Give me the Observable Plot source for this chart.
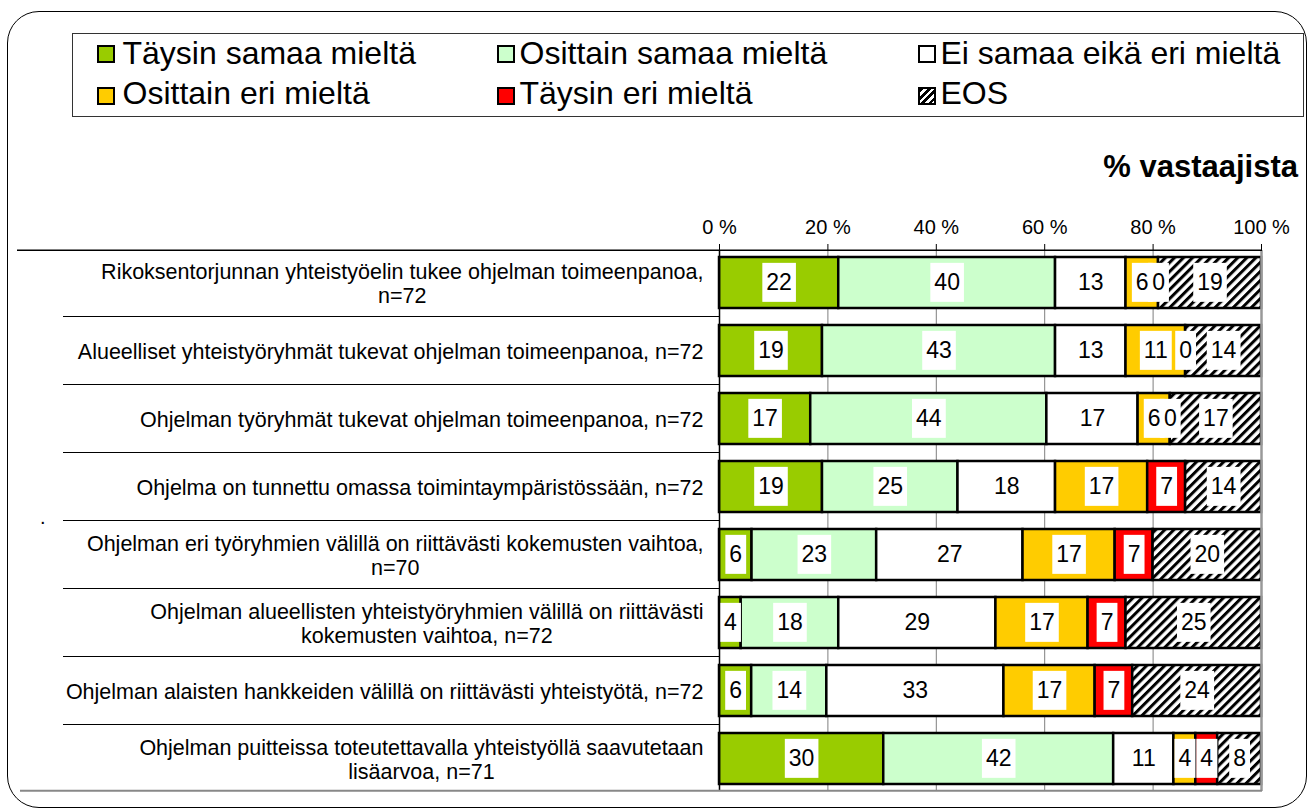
<!DOCTYPE html>
<html><head><meta charset="utf-8">
<script src="https://cdn.jsdelivr.net/npm/d3@7"></script>
<script src="https://cdn.jsdelivr.net/npm/@observablehq/plot@0.6"></script>
<style>
html,body{margin:0;padding:0;background:#fff;}
#wrap{position:relative;width:1309px;height:811px;overflow:hidden;font-family:"Liberation Sans",Arial,sans-serif;color:#000;}
#chart{position:absolute;left:0;top:0;}
#frame{position:absolute;left:7px;top:11px;width:1300px;height:797px;border:1.5px solid #000;border-radius:32px;box-sizing:border-box;pointer-events:none;}
#legend{position:absolute;left:72px;top:33px;width:1232px;height:84px;border:1.5px solid #333;box-sizing:border-box;background:#fff;}
.li{position:absolute;font-size:32px;line-height:32px;white-space:nowrap;}
.sw{position:absolute;width:18px;height:18px;border:2px solid #000;box-sizing:border-box;}
#title{position:absolute;right:11px;top:151px;font-size:31px;line-height:31px;font-weight:bold;}
#dot{position:absolute;left:40px;top:507px;font-size:20px;line-height:20px;}
</style></head><body>
<div id="wrap"><div id="chart"></div><div id="frame"></div><div id="legend"></div><div id="title">% vastaajista</div><div id="dot">.</div></div>
<script>
// ---- data ----
const questions = [
  "Rikoksentorjunnan yhteistyöelin tukee ohjelman toimeenpanoa,\nn=72",
  "Alueelliset yhteistyöryhmät tukevat ohjelman toimeenpanoa, n=72",
  "Ohjelman työryhmät tukevat ohjelman toimeenpanoa, n=72",
  "Ohjelma on tunnettu omassa toimintaympäristössään, n=72",
  "Ohjelman eri työryhmien välillä on riittävästi kokemusten vaihtoa,\nn=70",
  "Ohjelman alueellisten yhteistyöryhmien välillä on riittävästi\nkokemusten vaihtoa, n=72",
  "Ohjelman alaisten hankkeiden välillä on riittävästi yhteistyötä, n=72",
  "Ohjelman puitteissa toteutettavalla yhteistyöllä saavutetaan\nlisäarvoa, n=71"
];
const seriesNames = ["Täysin samaa mieltä","Osittain samaa mieltä","Ei samaa eikä eri mieltä","Osittain eri mieltä","Täysin eri mieltä","EOS"];
const seriesColors = ["#99CC00","#CCFFCC","#FFFFFF","#FFCC00","#FF0000","url(#eos)"];
const taysinSamaa   = [22,19,17,19, 6, 4, 6,30];
const osittainSamaa = [40,43,44,25,23,18,14,42];
const eiSamaaEiEri  = [13,13,17,18,27,29,33,11];
const osittainEri   = [ 6,11, 6,17,17,17,17, 4];
const taysinEri     = [ 0, 0, 0, 7, 7, 7, 7, 4];
const eos           = [19,14,17,14,20,25,24, 8];
const xTicks = [0,0.2,0.4,0.6,0.8,1];

const seriesValues = [taysinSamaa, osittainSamaa, eiSamaaEiEri, osittainEri, taysinEri, eos];
const rows = [];
seriesNames.forEach((s, si) => questions.forEach((q, qi) => rows.push({q, series: s, value: seriesValues[si][qi]})));

// ---- legend (HTML) ----
const legend = document.getElementById("legend");
const legCols = [97, 497, 918], legTextCols = [123, 520, 941];
const legRows = [45, 87], legTextRows = [37.5, 77.5];
seriesNames.forEach((s, i) => {
  const c = i % 3, r = Math.floor(i / 3);
  const sw = document.createElement("div");
  sw.className = "sw";
  sw.style.left = (legCols[c] - 73.5) + "px";
  sw.style.top = (legRows[r] - 34.5) + "px";
  if (s === "EOS") sw.style.background = "repeating-linear-gradient(135deg,#000 0 2.6px,#fff 2.6px 5.2px)";
  else sw.style.background = seriesColors[i];
  legend.appendChild(sw);
  const t = document.createElement("div");
  t.className = "li";
  t.textContent = s;
  t.style.left = (legTextCols[c] - 73.5) + "px";
  t.style.top = (legTextRows[r] - 34.5) + "px";
  legend.appendChild(t);
});

// ---- plot ----
const plot = Plot.plot({
  width: 1309, height: 811,
  marginLeft: 719, marginRight: 48, marginTop: 250, marginBottom: 20,
  style: {background: "none", fontFamily: "'Liberation Sans', Arial, sans-serif", fontSize: "20px", color: "#000", overflow: "visible"},
  x: {domain: [0, 1]},
  y: {domain: questions, paddingInner: 0.25, paddingOuter: 0.1},
  color: {domain: seriesNames, range: seriesColors},
  marks: [
    Plot.gridX({ticks: xTicks.slice(1, -1), stroke: "#7f7f7f", strokeOpacity: 1, strokeWidth: 1}),
    Plot.barX(rows.filter(d => d.value > 0), Plot.stackX({x: "value", y: "q", fill: "series", offset: "normalize", stroke: "#000", strokeWidth: 2.5})),
    Plot.text(rows, Plot.stackX({x: "value", y: "q", text: d => String(d.value), offset: "normalize", fontSize: 23, fill: "#000"})),
    Plot.ruleX([0], {stroke: "#000", strokeWidth: 1.5}),
    Plot.ruleX([1], {stroke: "#999", strokeWidth: 2.5}),
    Plot.axisX({ticks: xTicks, anchor: "top", tickFormat: d => `${Math.round(d * 100)} %`, tickSize: 7, tickPadding: 10, fontSize: 20, label: null}),
    Plot.axisY({tickSize: 0, tickPadding: 16, fontSize: 21.5, lineHeight: 1.13, label: null})
  ]
});
document.getElementById("chart").appendChild(plot);

// pattern for EOS
const svg = plot;
const defs = d3.select(svg).insert("defs", ":first-child");
const pat = defs.append("pattern").attr("id", "eos").attr("patternUnits", "userSpaceOnUse")
  .attr("width", 6.4).attr("height", 6.4).attr("patternTransform", "rotate(45)");
pat.append("rect").attr("width", 6.4).attr("height", 6.4).attr("fill", "#fff");
pat.append("rect").attr("width", 3).attr("height", 6.4).attr("fill", "#000");

const xs = plot.scale("x"), ys = plot.scale("y");
let step = ys.step, bw = ys.bandwidth;
if (!step) { step = ys.apply(questions[1]) - ys.apply(questions[0]); }
if (!bw) { bw = step * (1 - 0.25); }
const gap = (step - bw) / 2;

// white boxes behind segment labels
const ns = "http://www.w3.org/2000/svg";
const tg = svg.querySelector('g[aria-label="text"]');
if (tg) {
  const texts = Array.from(tg.querySelectorAll("text"));
  const items = texts.map(t => ({t, b: t.getBBox()}));
  const h = bw - 12;
  items.forEach(({t, b}) => {
    const r = document.createElementNS(ns, "rect");
    r.setAttribute("x", b.x - 4);
    r.setAttribute("width", b.width + 8);
    r.setAttribute("y", b.y + b.height / 2 - h / 2);
    r.setAttribute("height", h);
    r.setAttribute("fill", "#fff");
    r.setAttribute("stroke", "none");
    const tr = t.getAttribute("transform");
    if (tr) r.setAttribute("transform", tr);
    tg.insertBefore(r, tg.firstChild);
  });
}

// center multi-line category labels within their block
svg.querySelectorAll('g[aria-label="y-axis tick label"] text').forEach(t => {
  const spans = t.querySelectorAll("tspan");
  if (spans.length < 2) return;
  const b = t.getBBox();
  const c = b.x + b.width / 2;
  t.removeAttribute("dx");
  t.setAttribute("text-anchor", "middle");
  spans.forEach(s => s.setAttribute("x", c));
});

// row separators and frame lines
const x0 = xs.apply(0), x1 = xs.apply(1);
const deco = d3.select(svg).append("g");
const yTop = ys.apply(questions[0]) - step * 0.1;
const yBot = ys.apply(questions[questions.length - 1]) + bw + step * 0.1;
deco.append("line").attr("x1", 17).attr("x2", x1).attr("y1", yTop).attr("y2", yTop).attr("stroke", "#000").attr("stroke-width", 1.5);
deco.append("line").attr("x1", 20).attr("x2", x1 + 1).attr("y1", yBot).attr("y2", yBot).attr("stroke", "#888").attr("stroke-width", 2);
questions.slice(1).forEach(q => {
  const y = ys.apply(q) - gap;
  deco.append("line").attr("x1", 63).attr("x2", x0).attr("y1", y).attr("y2", y).attr("stroke", "#000").attr("stroke-width", 1);
});
</script></body></html>
